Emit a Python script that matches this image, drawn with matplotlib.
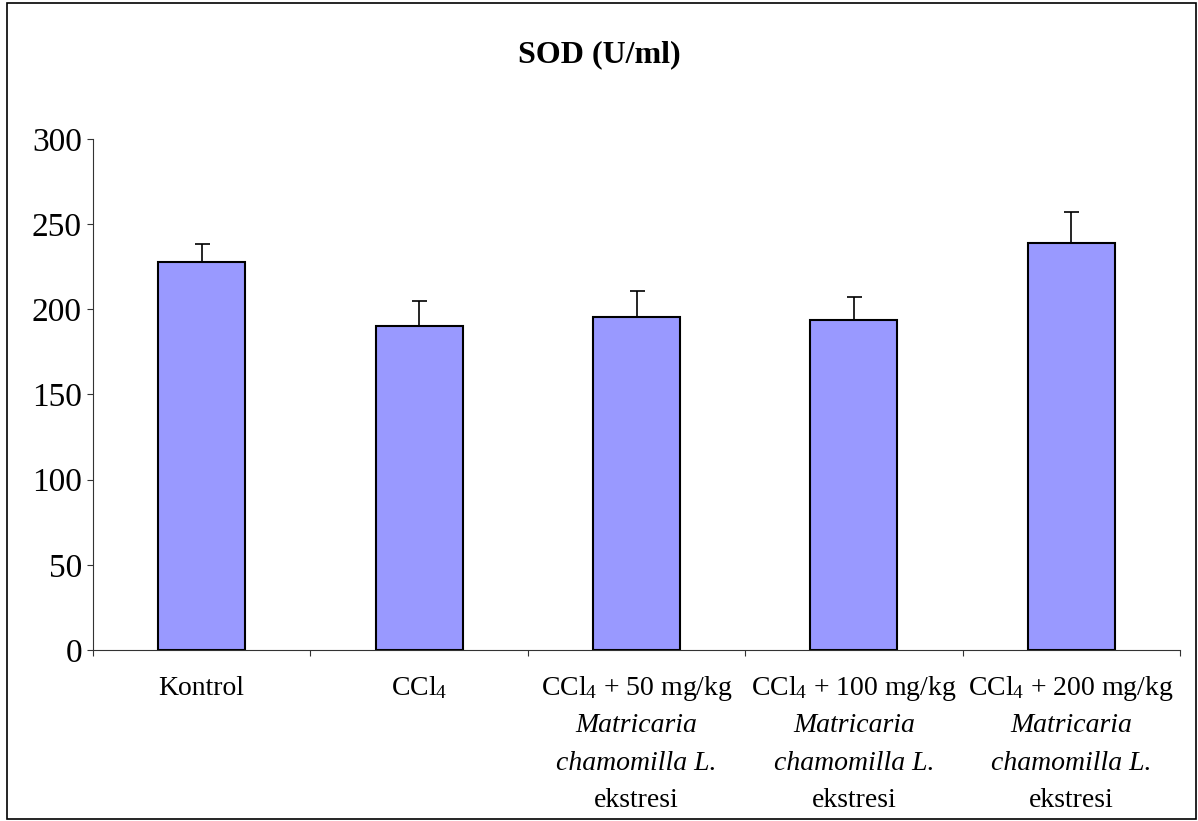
import matplotlib
matplotlib.use("Agg")
import matplotlib.pyplot as plt
import numpy as np
from matplotlib.patches import Rectangle

# data
groups = ["Kontrol", "CCl4", "CCl4 + 50 mg/kg", "CCl4 + 100 mg/kg", "CCl4 + 200 mg/kg"]
sod_mean = [227.5, 190, 195.5, 194, 239]
sod_err = [11, 15, 15, 13.5, 18]
yticks = [0, 50, 100, 150, 200, 250, 300]

# label lines (first line roman, then italic species name, then roman)
label_lines = [
    [("Kontrol", "normal")],
    [("CCl$_4$", "normal")],
    [("CCl$_4$ + 50 mg/kg", "normal"), ("Matricaria", "italic"),
     ("chamomilla L.", "italic"), ("ekstresi", "normal")],
    [("CCl$_4$ + 100 mg/kg", "normal"), ("Matricaria", "italic"),
     ("chamomilla L.", "italic"), ("ekstresi", "normal")],
    [("CCl$_4$ + 200 mg/kg", "normal"), ("Matricaria", "italic"),
     ("chamomilla L.", "italic"), ("ekstresi", "normal")],
]

plt.rcParams["font.family"] = ["Liberation Serif", "DejaVu Serif"]
plt.rcParams["mathtext.fontset"] = "custom"
plt.rcParams["mathtext.rm"] = "Liberation Serif"
plt.rcParams["mathtext.it"] = "Liberation Serif:italic"

fig = plt.figure(figsize=(11.98, 8.21), dpi=100)
ax = fig.add_axes([93 / 1198, 171 / 821, (1180 - 93) / 1198, 511 / 821])

x = np.arange(len(groups))
ax.bar(x, sod_mean, width=0.4, color="#9999FF", edgecolor="black", linewidth=1.5,
       zorder=2)
ax.errorbar(x, sod_mean, yerr=[np.zeros(len(sod_err)), sod_err], fmt="none",
            ecolor="black", elinewidth=1.2, capsize=5.4, capthick=1.2, zorder=1)

ax.set_xlim(-0.5, len(groups) - 0.5)
ax.set_ylim(0, 300)
ax.set_yticks(yticks)
ax.tick_params(axis="y", labelsize=24, direction="out", length=4.5, width=0.8,
               pad=3.5, color="#333333")

# ticks between categories, labels drawn below by hand
ax.set_xticks(np.arange(-0.5, len(groups), 1.0))
ax.set_xticklabels([])
ax.tick_params(axis="x", direction="out", length=4.5, width=0.8, color="#333333")

for s in ["top", "right"]:
    ax.spines[s].set_visible(False)
for s in ["left", "bottom"]:
    ax.spines[s].set_linewidth(0.8)
    ax.spines[s].set_color("#333333")

for i, lines in enumerate(label_lines):
    for k, (txt, style) in enumerate(lines):
        ax.annotate(txt, xy=(i, 0), xycoords=("data", "axes fraction"),
                    xytext=(0, -38 - k * 37.5), textcoords="offset pixels",
                    ha="center", va="center", fontsize=20, fontstyle=style)

fig.text(0.5, 1 - 55 / 821, "SOD (U/ml)", ha="center", va="center",
         fontsize=23, fontweight="bold")

# border round the whole figure
fig.patches.append(Rectangle((7 / 1198, 2 / 821), 1189 / 1198, 816 / 821,
                             transform=fig.transFigure, fill=False,
                             edgecolor="black", linewidth=1.2))

fig.savefig("out.png", dpi=100)
